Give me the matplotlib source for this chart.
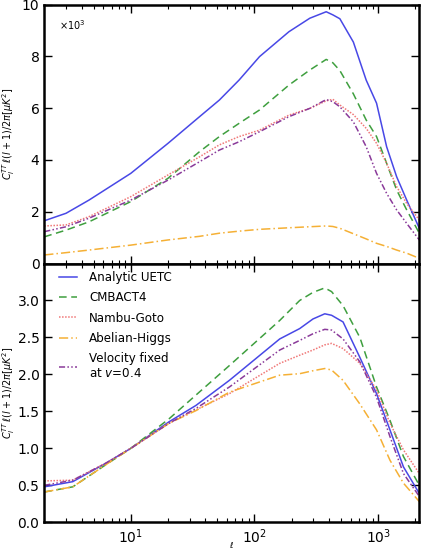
import matplotlib
matplotlib.use("Agg")
import matplotlib.pyplot as plt
import numpy as np

# multipoles
ell_top = [2, 3, 4.6, 10, 20, 36, 52, 75, 110, 190, 280, 380, 430, 490, 630, 800, 970, 1170, 1410, 1700, 2150]

# top panel, C_l l(l+1)/2pi in units of 10^3 muK^2
uetc_top = [1.65, 1.94, 2.45, 3.48, 4.64, 5.67, 6.31, 7.08, 7.99, 8.95, 9.47, 9.72, 9.60, 9.45, 8.55, 7.08, 6.19, 4.51, 3.35, 2.45, 1.36]
cmbact_top = [1.03, 1.29, 1.61, 2.39, 3.29, 4.32, 4.90, 5.41, 5.93, 6.89, 7.47, 7.88, 7.75, 7.45, 6.55, 5.54, 4.90, 3.87, 2.84, 2.07, 1.17]
ng_top = [1.45, 1.49, 1.81, 2.58, 3.42, 4.12, 4.58, 4.90, 5.15, 5.73, 5.99, 6.28, 6.34, 6.12, 5.75, 5.22, 4.64, 3.87, 2.97, 2.32, 1.68]
ah_top = [0.33, 0.42, 0.52, 0.71, 0.91, 1.05, 1.17, 1.25, 1.32, 1.38, 1.42, 1.45, 1.43, 1.36, 1.15, 0.95, 0.78, 0.66, 0.52, 0.40, 0.20]
vfix_top = [1.23, 1.42, 1.75, 2.45, 3.22, 3.93, 4.38, 4.70, 5.09, 5.67, 5.99, 6.33, 6.25, 6.05, 5.47, 4.51, 3.48, 2.71, 2.07, 1.55, 0.91]

# bottom panel, normalised at l = 10
ell_bot = [2, 3.4, 6.3, 10, 20.4, 33.6, 62.7, 160, 232, 297, 370, 420, 520, 711, 970, 1245, 1600, 2150]
uetc_bot = [0.48, 0.55, 0.80, 1.0, 1.36, 1.58, 1.92, 2.48, 2.62, 2.75, 2.82, 2.80, 2.71, 2.23, 1.74, 1.25, 0.75, 0.39]
cmbact_bot = [0.41, 0.48, 0.78, 1.0, 1.40, 1.72, 2.12, 2.73, 3.00, 3.11, 3.17, 3.12, 2.93, 2.50, 1.83, 1.38, 0.89, 0.50]
ng_bot = [0.56, 0.57, 0.80, 1.0, 1.34, 1.52, 1.74, 2.15, 2.26, 2.33, 2.40, 2.42, 2.35, 2.15, 1.79, 1.34, 0.98, 0.66]
ah_bot = [0.41, 0.48, 0.78, 1.0, 1.34, 1.51, 1.76, 1.99, 2.01, 2.05, 2.08, 2.06, 1.92, 1.60, 1.25, 0.84, 0.53, 0.28]
vfix_bot = [0.50, 0.57, 0.80, 1.0, 1.34, 1.54, 1.83, 2.33, 2.46, 2.55, 2.61, 2.60, 2.48, 2.17, 1.69, 1.16, 0.66, 0.35]

labels = ["Analytic UETC", "CMBACT4", "Nambu-Goto", "Abelian-Higgs", "Velocity fixed\nat $v$=0.4"]
cores = ["#4848e6", "#3f9f3f", "#f07878", "#f5b035", "#8a3a9a"]
estilos = [dict(ls="-"), dict(ls=(0, (5, 3))), dict(ls=(0, (1, 1))),
           dict(ls=(0, (6, 2, 1, 2))), dict(ls=(0, (4, 1.5, 1, 1.5, 1, 1.5)))]

plt.rcParams["font.family"] = "DejaVu Sans"

fig = plt.figure(figsize=(4.27, 5.49), dpi=100)
ax1 = fig.add_axes([0.1037, 0.520, 0.8783, 0.4718])
ax2 = fig.add_axes([0.1037, 0.0486, 0.8783, 0.4714])

series_top = [uetc_top, cmbact_top, ng_top, ah_top, vfix_top]
series_bot = [uetc_bot, cmbact_bot, ng_bot, ah_bot, vfix_bot]

for y, lab, c, st in zip(series_top, labels, cores, estilos):
    ax1.plot(ell_top, y, color=c, lw=1.1, label=lab, **st)
for y, lab, c, st in zip(series_bot, labels, cores, estilos):
    ax2.plot(ell_bot, y, color=c, lw=1.1, label=lab, **st)

ylab = r"$C_l^{TT}\,\ell(l+1)/2\pi[\mu K^2]$"
for ax in (ax1, ax2):
    ax.set_xscale("log")
    ax.set_xlim(2, 2150)
    ax.tick_params(which="both", direction="in", top=True, right=True, labelsize=10)
    ax.tick_params(which="major", length=6, width=1)
    ax.tick_params(which="minor", length=3, width=0.8)
    for s in ax.spines.values():
        s.set_linewidth(1.8)
    ax.set_ylabel(ylab, fontsize=7)
    ax.yaxis.set_label_coords(-0.072, 0.5)

ax1.set_ylim(0, 10)
ax1.set_yticks([0, 2, 4, 6, 8, 10])
ax1.tick_params(labelbottom=False)
ax1.text(0.04, 0.92, r"$\times10^3$", transform=ax1.transAxes, fontsize=7, va="center")

ax2.set_ylim(0, 3.5)
ax2.set_yticks([0.0, 0.5, 1.0, 1.5, 2.0, 2.5, 3.0])
ax2.set_yticklabels(["0.0", "0.5", "1.0", "1.5", "2.0", "2.5", "3.0"])
ax2.set_xlabel(r"$\ell$", fontsize=6, labelpad=-4)
ax2.legend(loc="upper left", bbox_to_anchor=(0.04, 0.97), frameon=False, fontsize=8.6,
           handlelength=1.5, handletextpad=1.0, labelspacing=0.6, borderpad=0, borderaxespad=0)

fig.savefig("out.png", dpi=100)
